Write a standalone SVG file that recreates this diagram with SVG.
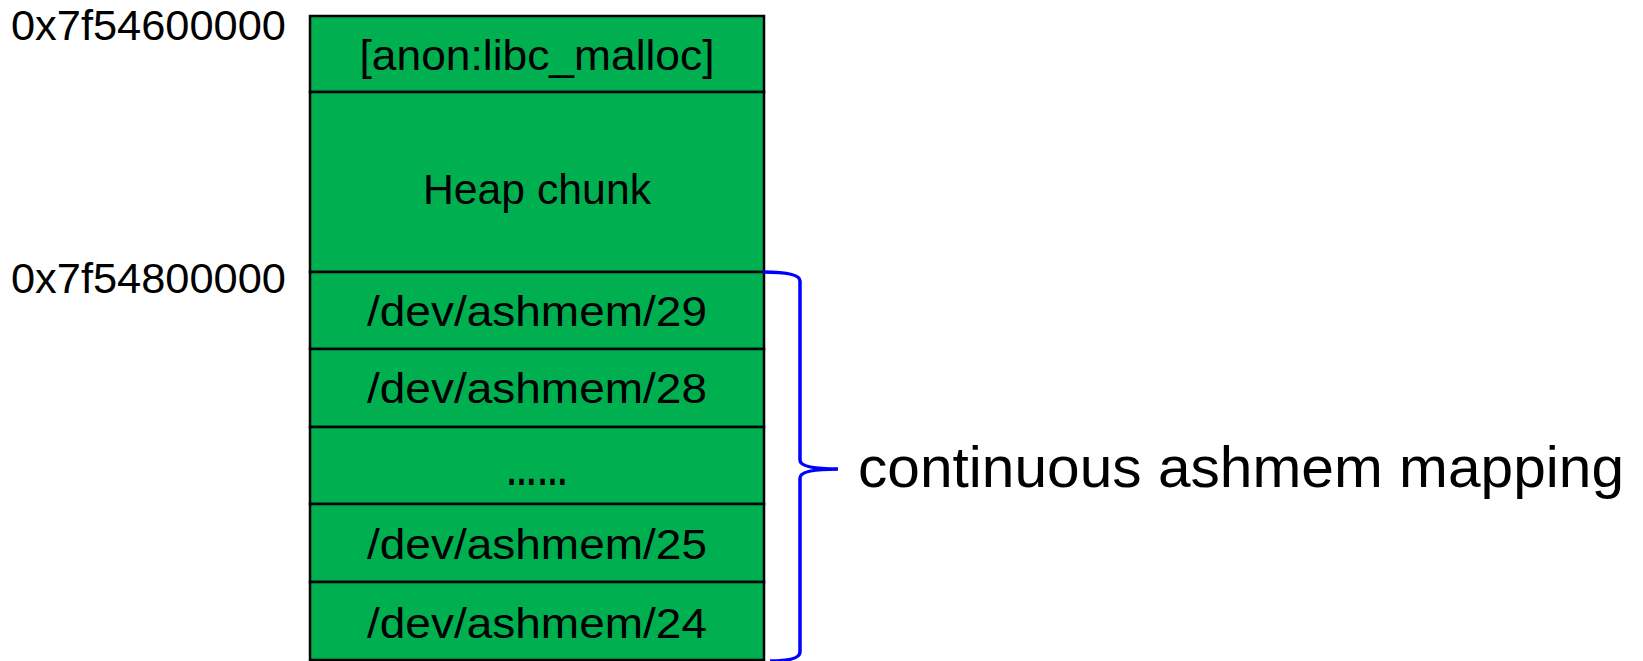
<svg xmlns="http://www.w3.org/2000/svg" width="1643" height="661" viewBox="0 0 1643 661">
<style>
.cell{fill:#00B050;stroke:#000;stroke-width:2.5}
.t{font-family:"Liberation Sans",Arial,sans-serif;font-size:42px;fill:#000}
.c{text-anchor:middle}
.big{font-family:"Liberation Sans",Arial,sans-serif;font-size:58px;fill:#000}
.brace{fill:none;stroke:#0000FF;stroke-width:3.5}
</style>
<rect width="1643" height="661" fill="#fff"/>
<g id="addr1"><text class="t" x="11" y="40" textLength="275" lengthAdjust="spacingAndGlyphs">0x7f54600000</text></g>
<g id="addr2"><text class="t" x="11" y="293" textLength="275" lengthAdjust="spacingAndGlyphs">0x7f54800000</text></g>
<g id="anon"><rect class="cell" x="310" y="16" width="454" height="76"/><text class="t c" x="537" y="70" textLength="355" lengthAdjust="spacingAndGlyphs">[anon:libc_malloc]</text></g>
<g id="heap"><rect class="cell" x="310" y="92" width="454" height="180"/><text class="t c" x="537" y="204" textLength="228" lengthAdjust="spacingAndGlyphs">Heap chunk</text></g>
<g id="ash29"><rect class="cell" x="310" y="272" width="454" height="77"/><text class="t c" x="537" y="326" textLength="340" lengthAdjust="spacingAndGlyphs">/dev/ashmem/29</text></g>
<g id="ash28"><rect class="cell" x="310" y="349" width="454" height="78"/><text class="t c" x="537" y="403" textLength="340" lengthAdjust="spacingAndGlyphs">/dev/ashmem/28</text></g>
<g id="dots"><rect class="cell" x="310" y="427" width="454" height="77"/><text class="t c" x="537" y="485" font-size="50" font-weight="bold" textLength="62" lengthAdjust="spacingAndGlyphs">……</text></g>
<g id="ash25"><rect class="cell" x="310" y="504" width="454" height="78"/><text class="t c" x="537" y="559" textLength="340" lengthAdjust="spacingAndGlyphs">/dev/ashmem/25</text></g>
<g id="ash24"><rect class="cell" x="310" y="582" width="454" height="78"/><text class="t c" x="537" y="638" textLength="340" lengthAdjust="spacingAndGlyphs">/dev/ashmem/24</text></g>
<g id="connectors">
<path class="brace" d="M 763 272 Q 800 272 800 281 L 800 460 Q 800 469 838 469 Q 800 469 800 478 L 800 652 Q 800 661 770 661"/>
</g>
<g id="label"><text class="big" x="858" y="487" textLength="766" lengthAdjust="spacingAndGlyphs">continuous ashmem mapping</text></g>
</svg>
